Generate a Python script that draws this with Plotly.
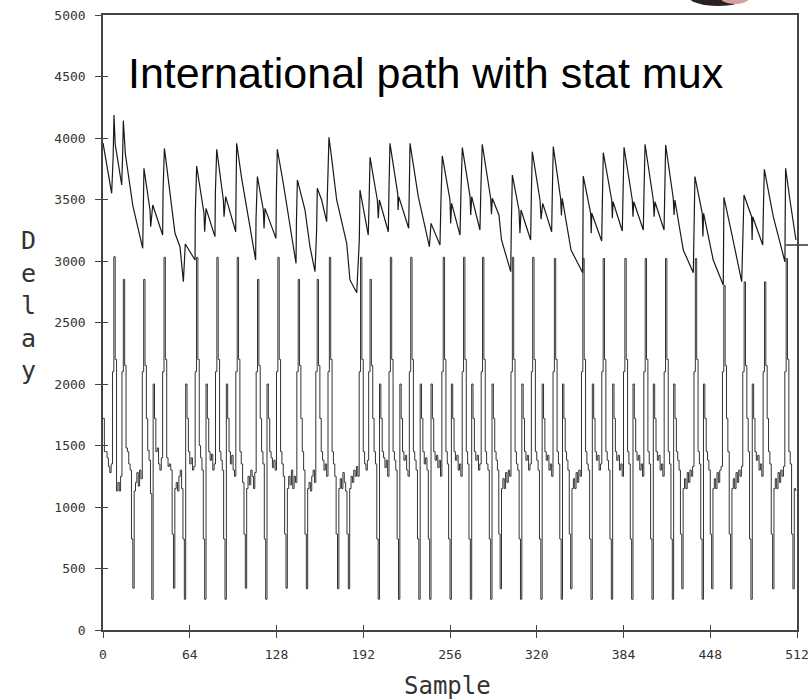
import plotly.graph_objects as go

# ---------------- data ----------------
x_ticks = [0, 64, 128, 192, 256, 320, 384, 448, 512]
y_ticks = [0, 500, 1000, 1500, 2000, 2500, 3000, 3500, 4000, 4500, 5000]

# upper (sawtooth) delay trace: vertices (sample, delay)
upper_x = [0, 6.4, 7.5, 8.1, 9, 13.8, 14.5, 15, 16.5, 22, 29.3, 29.5, 30.2, 34.7, 35.2, 36.7,
           44, 44.3, 45.3, 47, 53.1, 56.8, 59.3, 60.7, 67.9, 68.1, 69.1, 74.5, 75, 76, 82.6, 82.9,
           83.9, 88.8, 89.3, 90.5, 97.9, 98.2, 98.6, 102.3, 112.6, 112.9, 113.9, 118.3, 118.8, 119.5,
           127.6, 127.9, 128.6, 133, 142.4, 142.7, 143.4, 149, 152.7, 156.4, 157.6, 158.1, 161.3, 165,
           165.6, 166.7, 168.7, 172.4, 179.8, 182.2, 187.2, 189.1, 189.6, 193.3, 195.7, 196.4, 197,
           202.4, 203.1, 203.9, 210.5, 211, 211.7, 217.4, 217.7, 218.2, 225.5, 226, 226.5, 232.6,
           240.8, 242, 248.6, 249.3, 250.3, 256, 256.5, 257.2, 263.4, 264.1, 265.1, 270.8, 271.3, 272,
           278.1, 278.8, 279.8, 286, 286.6, 287.2, 292.1, 294, 300.8, 301.3, 302, 306.9, 307.6, 308.4,
           315.5, 316, 316.7, 322.4, 323.2, 324.4, 331, 331.5, 332.2, 337.6, 338.2, 338.8, 345.3,
           353.9, 354.1, 354.3, 359.8, 360.2, 360.6, 367.9, 368.5, 369.1, 375.3, 375.8, 376.3, 383.1,
           383.7, 384.4, 390.5, 391, 391.6, 398.6, 399.2, 399.9, 406, 406.6, 407.2, 413.9, 414.5,
           415.1, 420.7, 421.3, 421.9, 428.1, 435.5, 436, 436.7, 442.1, 442.6, 443.1, 450.2, 457.6,
           457.8, 458.1, 463.8, 471.2, 472, 472.9, 478.5, 478.9, 479.3, 486.7, 487.2, 487.9, 494.5,
           503.1, 503.3, 503.6, 506.8, 511.2]
upper_y = [3960, 3550, 3850, 4187, 3950, 3618, 3870, 4141, 3870, 3450, 3103, 3450, 3753, 3415, 3279, 3455,
           3211, 3563, 3915, 3767, 3225, 3116, 2832, 3138, 3008, 3388, 3772, 3388, 3238, 3428, 3198, 3550,
           3908, 3496, 3360, 3523, 3238, 3600, 3957, 3672, 3008, 3347, 3686, 3415, 3265, 3428,
           3184, 3540, 3908, 3632, 2981, 3310, 3659, 3415, 3116, 2913, 3252, 3591, 3496, 3320,
           3650, 4005, 3835, 3496, 3144, 2846, 2742, 3171, 3577, 3360, 3211, 3520, 3843,
           3496, 3347, 3496, 3238, 3590, 3957, 3550, 3415, 3523, 3266, 3600, 3957, 3523,
           3116, 3306, 3130, 3480, 3854, 3496, 3306, 3469, 3211, 3570, 3922, 3523, 3374, 3523,
           3252, 3600, 3949, 3510, 3380, 3510, 3374, 3171, 2913, 3320, 3699, 3415, 3225, 3415,
           3171, 3530, 3889, 3496, 3340, 3469, 3238, 3560, 3930, 3510, 3370, 3510, 3089,
           2905, 3320, 3691, 3388, 3225, 3388, 3163, 3530, 3881, 3496, 3347, 3482, 3244,
           3570, 3924, 3496, 3360, 3482, 3252, 3590, 3949, 3496, 3360, 3482, 3252, 3590,
           3943, 3510, 3374, 3496, 3089, 2905, 3320, 3686, 3388, 3200, 3388, 3008, 2805,
           3140, 3518, 3225, 2832, 3160, 3537, 3360, 3170, 3360, 3130, 3415, 3745, 3360,
           2994, 3380, 3753, 3496, 3171]

# lower (spiky) delay trace: one value per sample 0..511
lower_delay = [
    1720, 1450, 1450, 1400, 1330, 1280, 1350, 2100, 3035, 2200, 1130, 1200, 1130, 1250, 2100, 2850,
    2150, 1480, 1450, 1350, 1300, 740, 340, 1130, 1200, 1280, 1170, 1300, 1230, 2100, 2850, 2150,
    1720, 1460, 1380, 1110, 250, 2000, 1720, 1450, 1480, 1350, 1300, 1400, 2100, 3030, 2200, 1400,
    1330, 1350, 1300, 780, 340, 1150, 1200, 1130, 1250, 1300, 1150, 740, 250, 2000, 1720, 1450,
    1350, 1400, 1300, 1330, 2100, 3030, 2200, 1500, 1400, 1300, 740, 250, 2000, 1720, 1450, 1380,
    1430, 1300, 1350, 2100, 3030, 2200, 1450, 1380, 1300, 740, 250, 2000, 1720, 1450, 1350, 1420,
    1300, 1250, 2100, 3030, 2200, 1450, 1350, 1200, 780, 340, 1150, 1250, 1180, 1300, 1250, 1150,
    1280, 2100, 2850, 2150, 1720, 1450, 1350, 740, 250, 2000, 1720, 1450, 1400, 1320, 1380, 1300,
    2100, 3030, 2200, 1450, 1350, 1250, 780, 340, 1150, 1250, 1180, 1300, 1150, 1250, 1200, 2100,
    2850, 2150, 1720, 1450, 1300, 780, 335, 1150, 1200, 1130, 1250, 1300, 1200, 2100, 2850, 2150,
    1720, 1450, 1380, 1300, 1350, 1250, 2100, 3030, 2200, 1450, 1350, 1250, 780, 335, 1150, 1230,
    1150, 1280, 1200, 1130, 780, 335, 1150, 1250, 1200, 1300, 1250, 1330, 1250, 2100, 3030, 2200,
    1450, 1350, 1300, 1380, 2100, 2850, 2150, 1720, 1450, 1350, 740, 250, 2000, 1720, 1450, 1400,
    1320, 1380, 1250, 2100, 3030, 2200, 1450, 1380, 1300, 740, 250, 2000, 1720, 1450, 1380, 1420,
    1300, 1250, 2100, 3030, 2200, 1450, 1380, 1300, 740, 250, 2000, 1720, 1450, 1350, 1400, 1300,
    740, 250, 2000, 1720, 1450, 1380, 1420, 1320, 1380, 1250, 2100, 3030, 2200, 1450, 1350, 740,
    250, 2000, 1720, 1450, 1380, 1420, 1300, 1350, 1250, 2100, 3030, 2200, 1450, 1350, 740, 250,
    2000, 1720, 1450, 1380, 1420, 1300, 1350, 2100, 3030, 2200, 1450, 1350, 1300, 740, 250, 2000,
    1720, 1450, 1380, 1300, 780, 335, 1150, 1230, 1150, 1280, 1200, 1300, 1250, 2100, 3030, 2200,
    1450, 1350, 1300, 740, 250, 2000, 1720, 1450, 1380, 1420, 1300, 1350, 2100, 3030, 2200, 1450,
    1380, 1300, 740, 250, 2000, 1720, 1450, 1380, 1420, 1300, 1350, 1250, 2100, 3020, 2200, 1450,
    1350, 740, 250, 2000, 1720, 1450, 1380, 1300, 780, 335, 1150, 1230, 1150, 1280, 1200, 1300,
    1250, 2100, 3020, 2200, 1450, 1350, 1300, 740, 250, 2000, 1720, 1450, 1380, 1420, 1300, 1350,
    2100, 3020, 2200, 1450, 1380, 1300, 740, 250, 2000, 1720, 1450, 1380, 1420, 1300, 1350, 1250,
    2100, 3020, 2200, 1450, 1350, 740, 250, 2000, 1720, 1450, 1380, 1420, 1300, 1350, 1250, 2100,
    3020, 2200, 1450, 1350, 740, 250, 2000, 1720, 1450, 1380, 1420, 1300, 1350, 1250, 2100, 3020,
    2200, 1450, 1350, 740, 250, 2000, 1720, 1450, 1380, 1300, 780, 335, 1150, 1230, 1150, 1280,
    1200, 1300, 1250, 1330, 2100, 3020, 2200, 1450, 1350, 740, 250, 2000, 1720, 1450, 1380, 1300,
    780, 335, 1150, 1230, 1150, 1280, 1200, 1300, 1330, 2100, 2800, 2150, 1720, 1450, 780, 335,
    1150, 1230, 1150, 1280, 1200, 1300, 1250, 1330, 2100, 2830, 2150, 1720, 1450, 740, 250, 2000,
    1720, 1450, 1380, 1420, 1300, 1350, 1250, 2100, 2830, 2150, 1720, 1450, 1350, 780, 335, 1150,
    1230, 1150, 1280, 1200, 1300, 1250, 1330, 2100, 3020, 2200, 1450, 1350, 780, 335, 1150, 1130,
]
lower_sample = list(range(len(lower_delay)))

end_marker_x = [512]
end_marker_y = [3130]

title_text = "International path with stat mux"
x_title = "Sample"
y_title = "D<br>e<br>l<br>a<br>y"

# ---------------- figure ----------------
W, H = 808, 699
L, R, T, B = 103, 11, 15, 69
pw, ph = W - L - R, H - T - B

def px2paper_x(px):
    return (px - L) / pw

def px2paper_y(py):
    return (H - B - py) / ph

tick_font = dict(family="DejaVu Sans Mono", size=13, color="#333333")
axis_col = "#444444"

fig = go.Figure()
fig.add_trace(go.Scatter(x=lower_sample, y=lower_delay, mode="lines",
                         line=dict(color="#333333", width=1, shape="hv"),
                         hoverinfo="skip", showlegend=False))
fig.add_trace(go.Scatter(x=upper_x, y=upper_y, mode="lines",
                         line=dict(color="#1a1a1a", width=1.2),
                         hoverinfo="skip", showlegend=False))
fig.add_trace(go.Scatter(x=end_marker_x, y=end_marker_y, mode="markers",
                         marker=dict(symbol="line-ew", size=16,
                                     line=dict(color="#333333", width=1.5)),
                         cliponaxis=False, hoverinfo="skip", showlegend=False))
# invisible trace so the inner-tick overlay axes are drawn
fig.add_trace(go.Scatter(x=[None], y=[None], xaxis="x2", yaxis="y2",
                         mode="lines", showlegend=False, hoverinfo="skip"))

fig.update_layout(
    width=W, height=H,
    margin=dict(l=L, r=R, t=T, b=B, autoexpand=False),
    paper_bgcolor="white", plot_bgcolor="white",
    showlegend=False,
    xaxis=dict(range=[0, 512], tickvals=x_ticks, ticktext=[str(v) for v in x_ticks],
               ticks="outside", ticklen=6, tickwidth=1.3, tickcolor=axis_col,
               showline=True, linecolor=axis_col, linewidth=1.5, mirror=True,
               showgrid=False, zeroline=False, tickfont=tick_font,
               ticklabelstandoff=6, automargin=False, ticklabeloverflow="allow"),
    yaxis=dict(range=[0, 5000], tickvals=y_ticks, ticktext=[str(v) for v in y_ticks],
               ticks="outside", ticklen=6, tickwidth=1.3, tickcolor=axis_col,
               showline=True, linecolor=axis_col, linewidth=1.5, mirror=True,
               showgrid=False, zeroline=False, tickfont=tick_font,
               ticklabelstandoff=7, automargin=False, ticklabeloverflow="allow"),
    xaxis2=dict(range=[0, 512], tickvals=x_ticks, overlaying="x", anchor="y2",
                side="bottom", ticks="inside", ticklen=5, tickwidth=1.3,
                tickcolor=axis_col, showticklabels=False, showline=False,
                showgrid=False, zeroline=False, automargin=False),
    yaxis2=dict(range=[0, 5000], tickvals=y_ticks, overlaying="y", anchor="x2",
                side="left", ticks="inside", ticklen=5, tickwidth=1.3,
                tickcolor=axis_col, showticklabels=False, showline=False,
                showgrid=False, zeroline=False, automargin=False),
    annotations=[
        dict(text=title_text, xref="paper", yref="paper",
             x=px2paper_x(126), y=px2paper_y(72.5), xanchor="left", yanchor="middle",
             showarrow=False, font=dict(family="Liberation Sans", size=43, color="black")),
        dict(text=x_title, xref="paper", yref="paper",
             x=px2paper_x(447.5), y=px2paper_y(685.5), xanchor="center", yanchor="middle",
             showarrow=False, font=dict(family="DejaVu Sans Mono", size=24, color="#333333")),
        dict(text=y_title, xref="paper", yref="paper",
             x=px2paper_x(28.5), y=px2paper_y(305), xanchor="center", yanchor="middle",
             showarrow=False, font=dict(family="DejaVu Sans Mono", size=25, color="#333333")),
    ],
    shapes=[
        dict(type="circle", xref="paper", yref="paper",
             x0=px2paper_x(688), x1=px2paper_x(748), y0=px2paper_y(6), y1=px2paper_y(-14),
             fillcolor="#2a2222", line=dict(width=0), layer="above"),
        dict(type="circle", xref="paper", yref="paper",
             x0=px2paper_x(720), x1=px2paper_x(750), y0=px2paper_y(4), y1=px2paper_y(-10),
             fillcolor="#d9a0a0", line=dict(width=0), layer="above"),
    ],
)

fig.write_html("out.html")
